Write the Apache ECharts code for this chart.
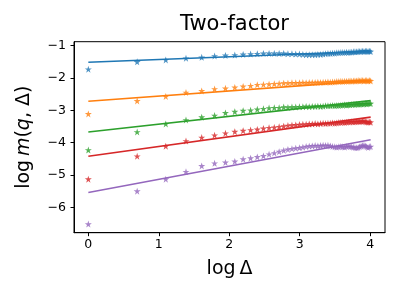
<!DOCTYPE html>
<html><head><meta charset="utf-8">
<script src="https://cdn.jsdelivr.net/npm/echarts@6/dist/echarts.min.js"></script>
<style>html,body{margin:0;padding:0;background:#fff}#c{width:400px;height:300px}</style>
</head><body><div id="c"></div>
<script>
// x = log(Δ) for Δ = 1..55
const logDelta = [0,0.693,1.099,1.386,1.609,1.792,1.946,2.079,2.197,2.303,2.398,2.485,2.565,2.639,2.708,2.773,2.833,2.890,2.944,2.996,3.045,3.091,3.135,3.178,3.219,3.258,3.296,3.332,3.367,3.401,3.434,3.466,3.497,3.526,3.555,3.584,3.611,3.638,3.664,3.689,3.714,3.738,3.761,3.784,3.807,3.829,3.850,3.871,3.892,3.912,3.932,3.951,3.970,3.989,4.007];
const blueVals = [-1.73,-1.50,-1.44,-1.39,-1.36,-1.32,-1.30,-1.29,-1.27,-1.26,-1.25,-1.24,-1.24,-1.24,-1.24,-1.24,-1.25,-1.25,-1.26,-1.26,-1.27,-1.28,-1.28,-1.28,-1.28,-1.27,-1.27,-1.26,-1.25,-1.24,-1.24,-1.23,-1.23,-1.22,-1.22,-1.21,-1.21,-1.21,-1.20,-1.21,-1.20,-1.20,-1.19,-1.19,-1.19,-1.18,-1.18,-1.18,-1.17,-1.18,-1.17,-1.17,-1.18,-1.17,-1.18];
const orangeVals = [-3.11,-2.71,-2.57,-2.45,-2.40,-2.34,-2.32,-2.29,-2.26,-2.24,-2.21,-2.20,-2.19,-2.18,-2.17,-2.16,-2.16,-2.15,-2.15,-2.15,-2.14,-2.15,-2.14,-2.14,-2.14,-2.13,-2.14,-2.13,-2.13,-2.12,-2.13,-2.12,-2.12,-2.11,-2.11,-2.10,-2.11,-2.10,-2.10,-2.10,-2.09,-2.10,-2.09,-2.09,-2.09,-2.08,-2.09,-2.08,-2.08,-2.09,-2.08,-2.08,-2.09,-2.08,-2.09];
const greenVals = [-4.23,-3.67,-3.42,-3.30,-3.21,-3.16,-3.08,-3.04,-3.01,-3.00,-2.97,-2.95,-2.93,-2.92,-2.92,-2.90,-2.91,-2.90,-2.90,-2.89,-2.89,-2.88,-2.89,-2.88,-2.88,-2.87,-2.88,-2.87,-2.86,-2.86,-2.86,-2.85,-2.86,-2.85,-2.85,-2.84,-2.84,-2.83,-2.84,-2.83,-2.83,-2.82,-2.82,-2.82,-2.81,-2.81,-2.81,-2.80,-2.80,-2.80,-2.79,-2.80,-2.79,-2.79,-2.79];
const redVals = [-5.13,-4.42,-4.11,-3.95,-3.84,-3.77,-3.71,-3.66,-3.63,-3.61,-3.59,-3.56,-3.54,-3.53,-3.51,-3.49,-3.47,-3.46,-3.45,-3.44,-3.43,-3.43,-3.42,-3.42,-3.41,-3.42,-3.41,-3.40,-3.41,-3.40,-3.40,-3.39,-3.40,-3.39,-3.38,-3.38,-3.37,-3.38,-3.37,-3.36,-3.36,-3.35,-3.36,-3.35,-3.35,-3.34,-3.35,-3.34,-3.34,-3.33,-3.35,-3.36,-3.37,-3.36,-3.37];
const purpleVals = [-6.52,-5.50,-5.13,-4.90,-4.72,-4.64,-4.61,-4.58,-4.51,-4.48,-4.44,-4.41,-4.36,-4.32,-4.28,-4.24,-4.21,-4.19,-4.17,-4.16,-4.14,-4.12,-4.11,-4.10,-4.09,-4.10,-4.09,-4.08,-4.09,-4.08,-4.10,-4.12,-4.13,-4.14,-4.13,-4.12,-4.13,-4.14,-4.12,-4.11,-4.12,-4.13,-4.14,-4.15,-4.16,-4.15,-4.13,-4.11,-4.09,-4.08,-4.10,-4.13,-4.15,-4.13,-4.12];
// fitted lines: endpoints at x = fitX
const fitX = [0, 4.007];
const fitBlue = [-1.51, -1.17];
const fitOrange = [-2.72, -2.08];
const fitGreen = [-3.67, -2.70];
const fitRed = [-4.42, -3.21];
const fitPurple = [-5.54, -3.91];
const xTicks = [0, 1, 2, 3, 4];
const yTicks = [-6, -5, -4, -3, -2, -1];

const colors = ['#1f77b4', '#ff7f0e', '#2ca02c', '#d62728', '#9467bd'];
const pts = [blueVals, orangeVals, greenVals, redVals, purpleVals];
const fits = [fitBlue, fitOrange, fitGreen, fitRed, fitPurple];
const star = 'path://M50,0 L62,36 L100,36 L69,58 L81,95 L50,72 L19,95 L31,58 L0,36 L38,36 Z';
const font = 'DejaVu Sans';
const series = [];
pts.forEach((vals, i) => {
  series.push({
    type: 'scatter', symbol: star, symbolSize: 7,
    itemStyle: { color: colors[i] },
    data: vals.map((v, j) => [logDelta[j], v]), z: 2
  });
});
fits.forEach((f, i) => {
  series.push({
    type: 'line', showSymbol: false, symbol: 'none',
    lineStyle: { color: colors[i], width: 1.6 },
    data: f.map((v, j) => [fitX[j], v]), z: 3
  });
});
const minus = s => String(s).replace('-', '\u2212');
const chart = echarts.init(document.getElementById('c'), null, { renderer: 'canvas' });
chart.setOption({
  animation: false,
  backgroundColor: '#fff',
  title: {
    text: 'Two-factor', left: 229.5, textAlign: 'center', top: 9,
    textStyle: { fontFamily: font, fontSize: 21, fontWeight: 'normal', color: '#000' }
  },
  grid: { left: 74, right: 15, top: 41.7, bottom: 67.3, show: true, borderColor: '#000', borderWidth: 1, backgroundColor: 'transparent' },
  xAxis: {
    type: 'value', min: -0.2035, max: 4.2105,
    axisLine: { show: true, onZero: false, lineStyle: { color: '#000', width: 1 } },
    axisTick: { show: true, length: 3.5, customValues: xTicks, lineStyle: { color: '#000' } },
    axisLabel: { customValues: xTicks, color: '#000', fontFamily: font, fontSize: 12.5, margin: 6, formatter: minus },
    splitLine: { show: false },
    name: 'log\u2009\u0394', nameLocation: 'middle', nameGap: 27,
    nameTextStyle: { fontFamily: font, fontSize: 19, color: '#000' }
  },
  yAxis: {
    type: 'value', min: -6.786, max: -0.876,
    axisLine: { show: true, onZero: false, lineStyle: { color: '#000', width: 1 } },
    axisTick: { show: true, length: 3.5, customValues: yTicks, lineStyle: { color: '#000' } },
    axisLabel: { customValues: yTicks, color: '#000', fontFamily: font, fontSize: 12.5, margin: 8, formatter: minus },
    splitLine: { show: false },
    name: '{a|log\u2009}{b|m}{a|(}{b|q}{a|, \u0394)}', nameLocation: 'middle', nameGap: 40, nameRotate: 90,
    nameTextStyle: {
      fontFamily: font, fontSize: 19, color: '#000',
      rich: { a: { fontFamily: font, fontSize: 19, color: '#000' }, b: { fontFamily: font, fontSize: 19, fontStyle: 'italic', color: '#000' } }
    }
  },
  series: series
});
</script></body></html>
